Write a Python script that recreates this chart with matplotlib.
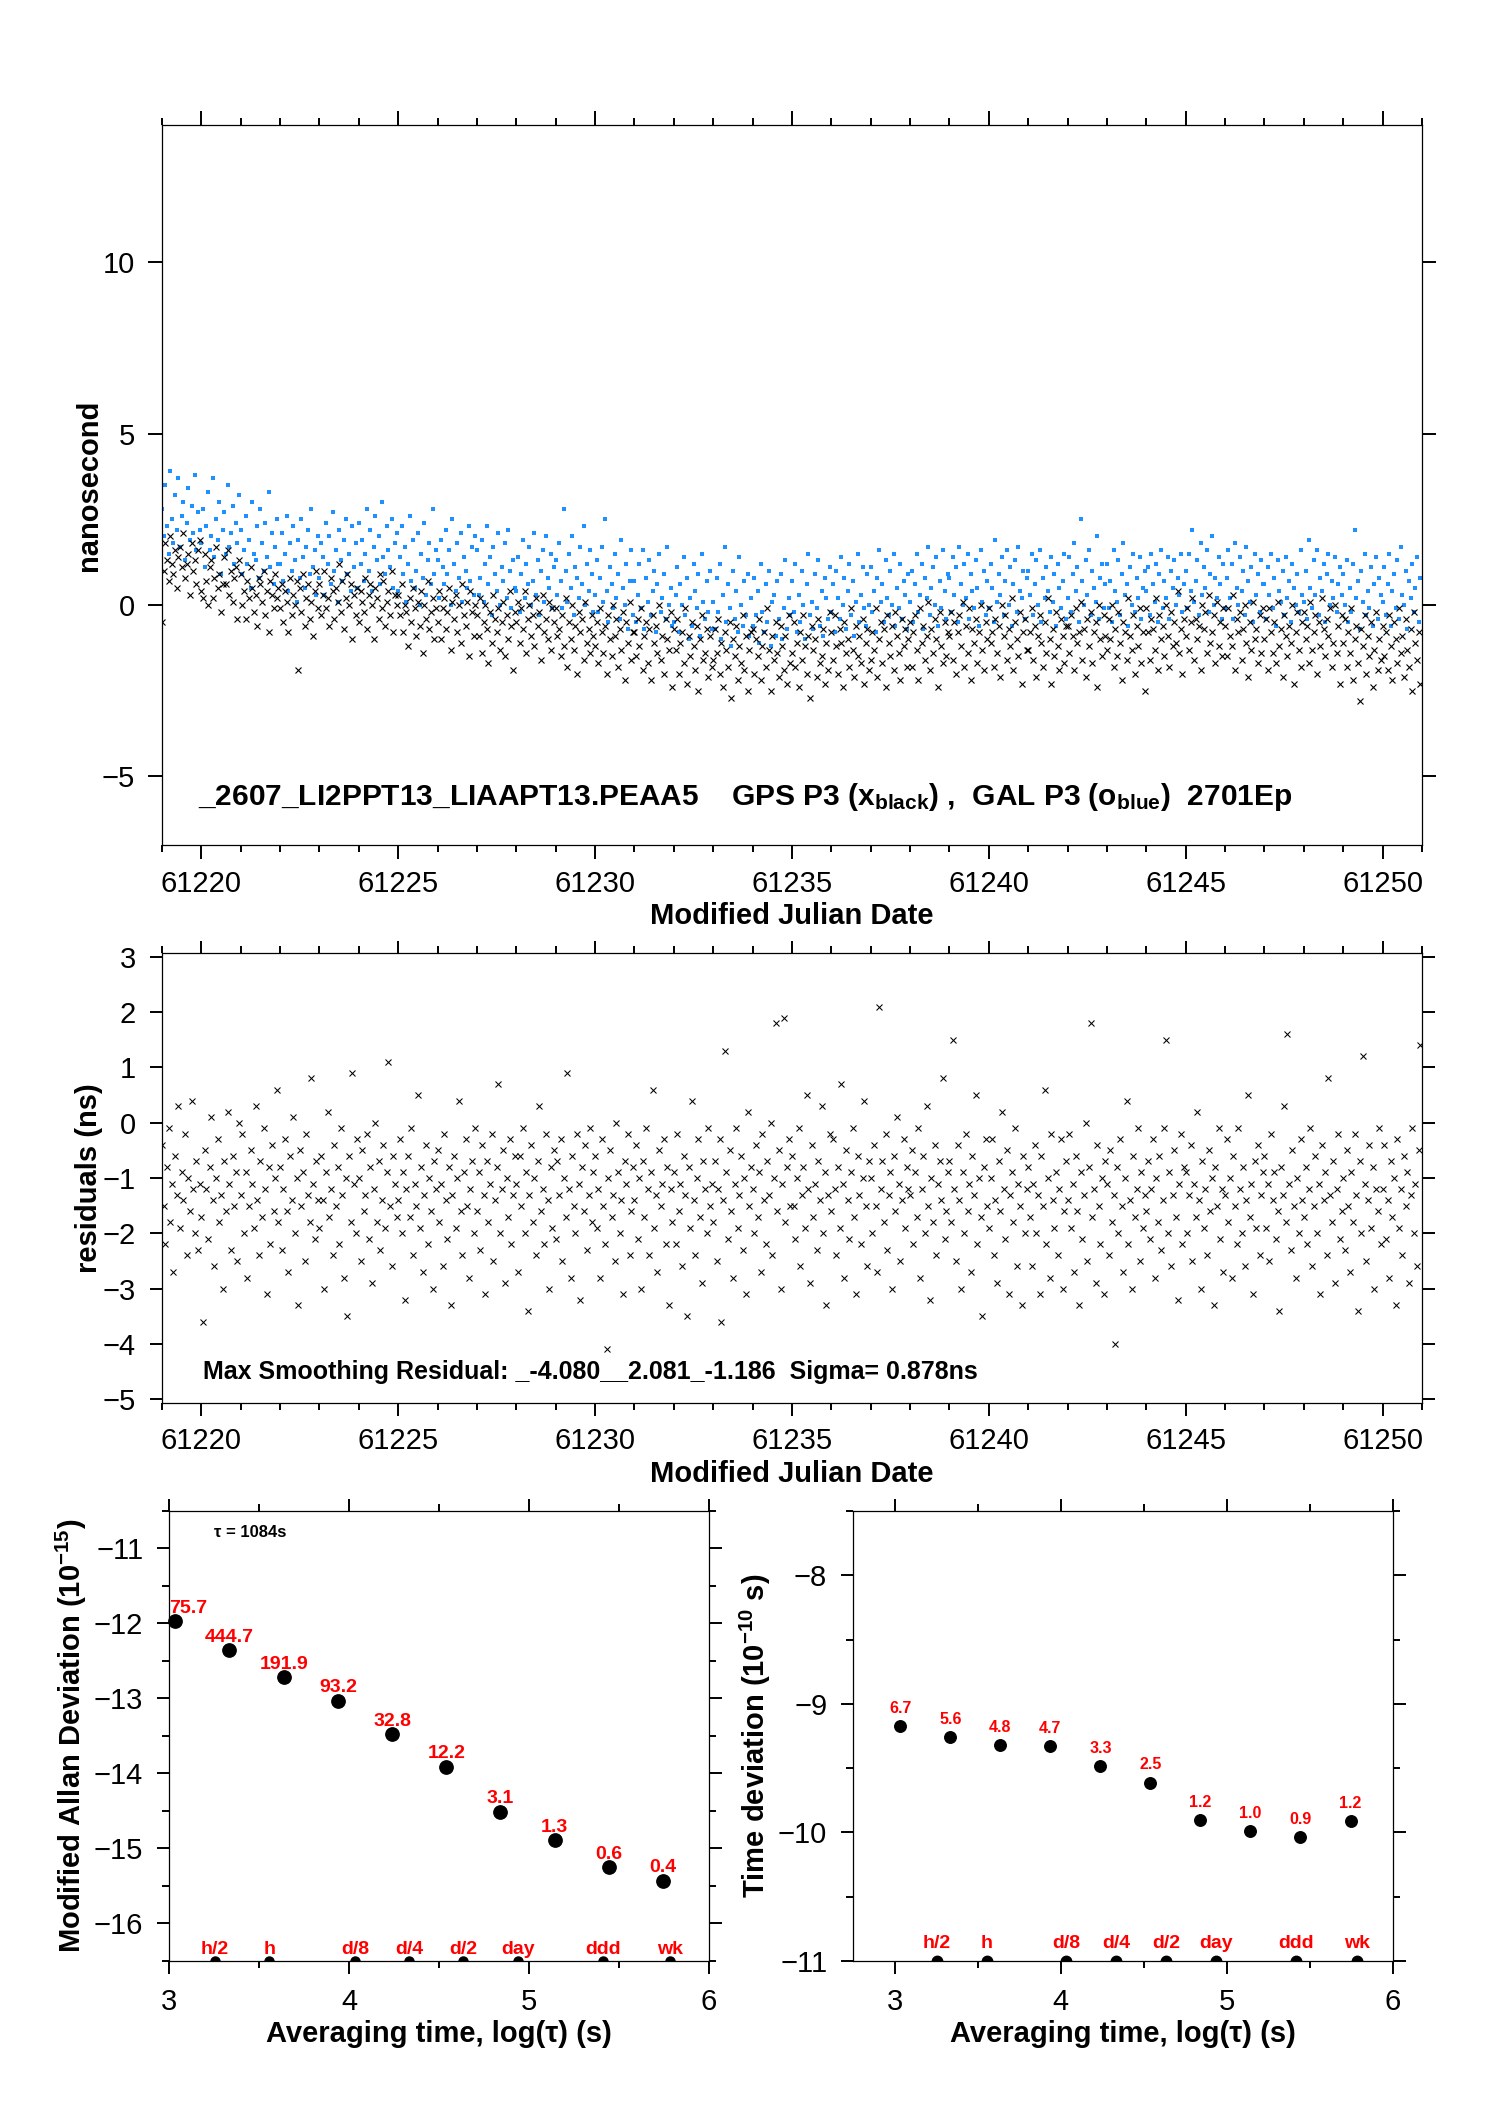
import numpy as np
import matplotlib
matplotlib.use("Agg")
import matplotlib.pyplot as plt
from matplotlib.ticker import MultipleLocator, FixedLocator

plt.rcParams['font.family'] = ['Liberation Sans', 'DejaVu Sans']
plt.rcParams['mathtext.fontset'] = 'custom'
plt.rcParams['mathtext.rm'] = 'Liberation Sans'
plt.rcParams['mathtext.bf'] = 'Liberation Sans:bold'
plt.rcParams['mathtext.it'] = 'Liberation Sans:italic'
plt.rcParams['axes.unicode_minus'] = True

# ---------------- data ----------------
MJD_START = 61219.0
SAMPLES_PER_DAY = 24

# GPS P3 clock offsets, tenths of ns, one row per day (hourly samples)
gps_tenths = [
    -5, 10, 18, 13, 7, 20, 12, 9, 16, 5, 14, 17, 11, 21, 8, 12, 15, 3, 18, 10, 13, 6, 16, 19,
    4, 2, 15, 7, 0, 11, 13, 2, 8, 17, 5, 9, -2, 6, 14, 6, 16, 3, 10, 1, 8, 11, -4, 13,
    9, 0, 4, -4, 7, 2, 11, 5, -2, 3, -6, 8, 6, 1, 10, -3, 4, -8, 7, 3, -1, 9, 2, 5,
    -1, 6, -5, 4, 1, -8, 8, -3, 3, 0, 7, -19, 5, -2, 9, -6, 2, 6, -4, 1, -9, 4, 10, -1,
    6, -3, 3, 10, -1, 2, -6, 8, 4, -4, 5, 1, 12, -2, 7, -7, 2, 9, 0, 6, -10, 3, -3, 5,
    -5, 4, 1, -2, 8, -7, 3, 6, 0, -10, 5, 2, -4, 9, -1, 7, -6, 1, 4, -3, 10, -8, 3, 0,
    3, -3, 6, -8, 0, -2, -12, 2, -5, 5, -1, -9, 1, -6, 4, -14, 0, -4, 7, -7, -2, 2, -10, -1,
    -5, 4, -10, -1, 2, -7, -2, 5, -13, 1, -4, 3, -8, 0, -11, 6, -3, -6, 1, -15, 4, -2, -9, 0,
    -3, -9, 2, -14, -5, 0, -7, -17, -2, -11, 3, -4, -8, -1, -13, -5, 1, -15, -3, -10, 4, -6, -19, -2,
    -5, 1, -11, -1, -7, 4, -14, -4, 0, -9, -3, -12, 2, -6, -2, -16, 3, -8, -4, -10, 1, -13, -1, -5,
    -1, -9, -7, -15, -3, -12, 2, -18, -5, -10, 0, -13, -6, -20, -2, -8, -4, -16, 1, -11, -7, -14, -3, -9,
    -12, -5, -17, -1, -8, -14, -6, -20, -3, -10, -15, 0, -9, -4, -18, -7, -13, -2, -22, -5, -11, 1, -16, -8,
    -8, -15, -4, -12, -1, -19, -9, -5, -17, -7, -22, -3, -11, -6, -14, 0, -16, -9, -20, -4, -10, -13, -2, -24,
    -7, -13, -4, -20, -11, -8, -17, -1, -23, -9, -15, -5, -12, -19, -6, -25, -10, -3, -16, -14, -7, -21, -9, -18,
    -16, -7, -14, -4, -20, -11, -24, -8, -13, -18, -5, -27, -10, -15, -6, -22, -12, -17, -3, -19, -9, -25, -13, -8,
    -7, -20, -10, -15, -4, -22, -12, -8, -18, -1, -13, -25, -9, -16, -5, -14, -21, -6, -12, -19, -9, -23, -3, -17,
    -14, -5, -18, -11, -24, -8, -16, -3, -12, -20, -9, -27, -6, -13, -10, -21, -4, -17, -15, -7, -23, -11, -19, -2,
    -8, -16, -3, -12, -20, -7, -11, -24, -5, -14, -10, -18, -1, -13, -21, -6, -15, -9, -17, -4, -23, -11, -7, -19,
    -16, -8, -13, -1, -21, -10, -5, -17, -7, -24, -3, -11, -15, -6, -19, -2, -9, -14, -22, -4, -12, -7, -18, -10,
    -5, -18, -8, -3, -13, -22, -1, -11, -6, -16, -9, 1, -19, -7, -14, -4, -10, -24, -2, -12, -17, -5, -15, -8,
    -9, -2, -16, -5, -20, -8, -3, -12, 1, -18, -6, -14, -1, -22, -7, -11, -4, -17, -8, 0, -13, -19, -5, -10,
    -1, -11, -8, -18, -4, -14, -6, -21, 0, -9, -3, -16, -7, -12, 2, -19, -5, -10, -15, -2, -23, -8, -4, -13,
    -13, -8, -1, -16, -6, -21, -9, -3, -11, -18, -5, -14, 2, -10, -23, -7, -15, -2, -12, -19, -4, -9, -17, -6,
    -6, -14, -3, -9, -19, -1, -11, -8, 1, -16, -7, -21, -4, -12, -2, -17, -8, -5, -24, 0, -10, -15, -3, -9,
    -13, -4, -10, 0, -18, -7, -15, -2, -11, -22, -5, -8, -16, 2, -9, -13, -3, -20, -6, -12, -1, -17, -8, -25,
    -1, -8, -16, -4, -7, -13, 2, -19, -3, -10, -6, -15, 0, -9, -18, -2, -12, -5, -11, 4, -14, -7, -20, -4,
    -9, -1, -13, -5, 2, -16, -4, -10, -6, -19, 0, -7, -2, -14, 3, -11, -8, -3, -17, 1, -12, -5, -15, -1,
    -6, -15, -1, -9, -12, 3, -19, -4, -8, -2, -16, -7, 0, -11, -21, -5, -13, 1, -10, -7, -17, -3, -14, -1,
    -10, -4, -19, -1, -8, -14, -5, -17, 1, -12, -7, -21, -3, -9, -15, -6, -11, 0, -23, -8, -2, -13, -18, -5,
    -2, -10, -6, -17, 1, -13, -8, -3, -20, -5, -12, 2, -7, -15, -4, -9, -1, -18, -11, 0, -14, -6, -23, -3,
    -11, -4, -18, -8, -14, -1, -22, -10, -6, -17, -28, -7, -12, -3, -20, -9, -15, -5, -24, -13, -2, -19, -10, -16,
    -6, -15, -8, -19, -3, -12, -22, -5, -10, -17, -1, -14, -9, -21, -4, -13, -18, -7, -25, -2, -11, -16, -8, -23,
]

# GAL P3 clock offsets, tenths of ns, same epochs
gal_tenths = [
    28, 20, 35, 23, 15, 39, 25, 18, 32, 22, 37, 17, 26, 30, 13, 24, 34, 19, 29, 21, 38, 16, 27, 22,
    18, 28, 11, 23, 33, 16, 20, 37, 14, 25, 19, 30, 9, 22, 27, 15, 35, 17, 21, 29, 12, 24, 18, 32,
    22, 9, 16, 26, 12, 19, 5, 30, 15, 13, 23, 8, 28, 18, 10, 24, 14, 33, 11, 21, 6, 17, 25, 12,
    12, 21, 7, 15, 26, 4, 18, 10, 23, 13, 1, 19, 8, 25, 14, 5, 17, 22, 9, 28, 11, 16, 3, 20,
    8, 18, 14, 3, 24, 12, 20, 6, 27, 10, 16, 1, 22, 13, 7, 19, 25, 9, 15, 4, 23, 11, 18, 5,
    24, 12, 19, 7, 15, 28, 10, 22, 4, 17, 26, 13, 20, 6, 30, 14, 9, 23, 16, 11, 25, 5, 18, 21,
    4, 14, 23, 9, 17, 1, 12, 26, 7, 19, 5, 10, 21, 0, 15, 8, 24, 3, 13, 18, 6, 28, 9, 16,
    13, 2, 19, 11, 6, 22, 9, 16, 0, 25, 12, 4, 18, 8, 21, 1, 14, 10, 5, 23, 7, 17, 3, 20,
    16, 3, 8, 19, 1, 12, 23, 6, 14, -3, 17, 9, 4, 21, 0, 11, 7, 18, 2, 22, 10, -1, 13, 5,
    4, 14, -2, 9, 19, 2, 12, 6, 17, 0, 7, 21, 3, 13, -3, 10, 16, 1, 20, 8, 5, 15, -1, 11,
    13, 3, 18, 7, -1, 28, 10, 1, 15, 5, 20, -3, 11, 8, 2, 17, 6, 23, 0, 12, 4, 16, 9, -2,
    3, 13, -2, 8, 17, 1, 25, 4, -5, 11, 6, -1, 15, 2, 9, -4, 19, 5, 0, 12, -7, 7, 16, -3,
    7, -5, 3, 12, -1, 16, -7, 8, 1, 13, -3, 4, 10, -8, 6, 15, -2, 2, 9, -4, 17, 0, 5, -6,
    -5, 3, 11, -8, 6, 0, 14, -3, 8, -10, 2, -6, 12, 4, -1, 9, -9, 15, 1, -4, 7, -2, 10, -7,
    1, -7, 8, -2, 12, -10, 3, 17, -5, 6, -1, -12, 10, -4, 4, -8, 14, 0, -6, 7, -3, 9, -9, 2,
    -6, 8, -3, 4, -11, 12, -2, -8, 6, -5, 10, -12, 1, 3, -9, 7, -4, 9, -10, -1, 13, -7, 2, -3,
    7, -2, 12, -8, 3, -5, 10, 0, -10, 6, 15, -3, 1, -7, 9, -1, 13, -6, 4, -9, 8, 2, -4, 11,
    -2, 6, -8, 10, 2, -4, 14, 0, 8, -7, 4, 12, -3, 7, -9, 1, 15, -5, 3, 11, -1, -6, 9, 0,
    11, -2, 4, -8, 8, 16, 1, 6, -5, 13, 2, -3, 10, 0, 15, -6, 5, -1, 12, -4, 7, 3, -7, 9,
    1, 10, -5, 6, 15, -2, 3, 12, -7, 8, 2, 17, -3, 5, 11, 0, 14, -6, 7, -1, 16, 4, -4, 9,
    8, -2, 14, 3, 11, -5, 17, 6, 0, 12, 2, 15, -4, 9, 4, -1, 13, 5, -6, 16, 1, 10, -3, 7,
    -1, 12, 5, -5, 19, 1, 9, 3, 14, -3, 7, 16, 0, 11, -6, 6, 13, -2, 17, 4, 2, 10, -4, 8,
    10, 3, 15, -3, 6, 13, 0, 16, -5, 8, 2, 11, 4, -2, 14, 1, 9, -6, 12, 5, -1, 7, 15, -4,
    2, 14, -2, 9, 18, 4, 11, -5, 25, 7, 0, 13, 3, 16, -3, 10, 5, 1, 20, -4, 8, 12, -1, 6,
    12, -1, 7, -5, 16, 4, 1, 13, -3, 9, 18, 3, 6, -6, 11, 0, 15, -2, 8, 2, 14, -4, 5, 10,
    4, 11, -3, 15, 6, 1, 12, -5, 9, 16, -1, 7, 2, 14, -4, 10, 5, 13, 0, 8, 3, 15, -2, 6,
    10, -1, 15, 4, 22, 1, 7, 13, -3, 18, 3, 11, 5, 16, -2, 9, 20, 0, 8, 2, 14, 6, -4, 12,
    -1, 8, 16, 2, 12, -4, 18, 5, 0, 14, 4, 10, -3, 17, 7, 1, 11, -5, 15, 3, 9, -2, 13, 6,
    6, -4, 11, 3, 15, -1, 8, -6, 13, 4, 1, 10, -3, 14, 2, 7, -5, 12, 5, 0, 9, -2, 16, 3,
    1, 10, -4, 19, 5, -1, 13, 3, 16, -3, 8, 4, 12, -5, 9, 15, 0, 7, 2, 14, -2, 6, 11, 3,
    9, 0, 13, -5, 5, -2, 12, 22, 2, 7, -7, 10, 1, 15, -3, 4, -1, 11, -6, 6, 14, -4, 8, 3,
    1, 11, -3, 6, 15, -6, 4, 9, -1, 13, -4, 17, 3, 0, 10, -7, 7, 2, 12, -2, 5, 14, -5, 8,
]

# smoothing residuals, tenths of ns, same epochs
resid_tenths = [
    -4, -15, -22, -8, -1, -18, -11, -27, -6, -13, 3, -19, -9, -14, -2, -24, -10, -16, 4, -12, -20, -7, -23, -11,
    -17, -36, -5, -12, -21, -8, 1, -14, -26, -10, -3, -18, -13, -30, -7, -16, 2, -11, -23, -6, -15, -9, -25, 0,
    -13, -2, -20, -9, -28, -15, -5, -11, -19, 3, -14, -24, -7, -17, -1, -12, -31, -8, -22, -4, -16, -10, 6, -18,
    -8, -23, -12, -3, -16, -27, -6, -14, 1, -20, -10, -33, -5, -15, -9, -25, -2, -13, -18, 8, -11, -21, -7, -14,
    -19, -6, -14, -30, -9, 2, -17, -12, -24, -4, -15, -8, -22, -1, -13, -28, -10, -35, -6, -18, 9, -11, -20, -3,
    -10, -25, -5, -16, -13, -2, -21, -8, -29, -12, 0, -18, -7, -23, -14, -4, -19, -9, 11, -15, -26, -6, -11, -17,
    -14, -3, -20, -9, -32, -12, -6, -17, -1, -24, -11, -15, 5, -19, -8, -27, -13, -4, -22, -10, -16, -30, -7, -12,
    -5, -18, -11, -26, -2, -14, -21, -8, -33, -13, -6, -19, -10, 4, -16, -24, -9, -3, -15, -28, -12, -7, -20, -1,
    -16, -9, -23, -4, -13, -31, -7, -18, -11, -2, -25, -14, -8, 7, -20, -12, -5, -29, -10, -17, -3, -22, -13, -6,
    -11, -27, -6, -15, -1, -20, -9, -34, -13, -4, -18, -10, -24, -7, 3, -16, -12, -22, -2, -14, -30, -8, -19, -5,
    -21, -7, -13, -3, -25, -10, -17, 9, -12, -28, -6, -15, -20, -2, -11, -32, -8, -16, -4, -23, -13, -1, -18, -9,
    -6, -19, -12, -28, -3, -15, -22, -41, -10, -5, -17, -13, -25, 0, -9, -20, -14, -31, -7, -11, -2, -24, -16, -8,
    -14, -4, -21, -10, -30, -7, -17, -1, -12, -24, -9, 6, -19, -13, -27, -5, -15, -11, -3, -22, -8, -33, -12, -18,
    -9, -22, -2, -16, -11, -26, -6, -13, -35, -8, -19, 4, -14, -24, -10, -3, -17, -29, -7, -12, -20, -1, -15, -11,
    -18, -7, -25, -12, -3, -36, -14, 13, -9, -21, -5, -16, -28, -11, -1, -19, -13, -6, -23, -10, -31, 2, -15, -8,
    -12, -20, -4, -17, -9, -27, -2, -14, -22, -7, -13, 0, -24, -10, 18, -16, -5, -30, -11, 19, -18, -8, -3, -15,
    -6, -15, -21, -10, -1, -26, -13, -8, -19, 5, -12, -29, -4, -17, -11, -23, -7, -14, 3, -20, -9, -33, -13, -2,
    -16, -3, -12, -24, -8, -19, 7, -11, -28, -5, -14, -21, -9, -1, -17, -31, -6, -13, -22, -10, 4, -15, -26, -7,
    -10, -20, -4, -15, -27, 21, -12, -7, -18, -2, -23, -13, -9, -30, -6, -16, 1, -11, -25, -14, -3, -19, -8, -12,
    -13, -5, -22, -9, -17, -1, -28, -12, -6, -20, 3, -15, -32, -10, -18, -4, -24, -11, -7, -14, 8, -21, -16, -9,
    -7, -18, 15, -12, -25, -4, -14, -30, -9, -20, -2, -16, -11, -27, -6, -13, 5, -22, -10, -17, -35, -8, -3, -15,
    -19, -10, -3, -24, -14, -29, -7, -16, 2, -12, -21, -5, -31, -13, -9, -18, -1, -26, -11, -15, -33, -6, -20, -12,
    -8, -17, -26, -11, -4, -20, -13, -31, -6, -15, 6, -22, -10, -28, -2, -14, -19, -9, -24, -12, -3, -30, -16, -7,
    -14, -2, -19, -11, -27, -6, -16, -33, -9, -21, -13, 0, -25, -8, 18, -17, -12, -29, -4, -15, -22, -10, -31, -7,
    -11, -24, -5, -18, -13, -40, -8, -20, -3, -15, -27, -10, 4, -22, -14, -30, -6, -17, -12, -1, -25, -9, -19, -13,
    -16, -7, -21, -12, -3, -28, -10, -18, -6, -23, -14, -1, 15, -20, -9, -26, -13, -5, -17, -32, -11, -2, -22, -8,
    -9, -20, -13, -4, -25, -11, -17, 2, -14, -30, -7, -19, -12, -24, -5, -16, -10, -33, -8, -15, -1, -21, -12, -27,
    -13, -3, -18, -10, -28, -6, -15, -22, -1, -12, -20, -8, -26, -14, 5, -17, -11, -31, -7, -19, -4, -24, -13, -9,
    -6, -19, -11, -25, -2, -14, -9, -21, -16, -34, -8, -13, 3, -18, 16, -11, -23, -5, -15, -28, -10, -20, -3, -14,
    -17, -8, -22, -12, -1, -26, -15, -6, -20, -11, -31, -4, -14, -9, -24, 8, -13, -18, -7, -29, -12, -2, -21, -16,
    -10, -23, -5, -15, -27, -9, -18, -2, -13, -34, -7, -20, 12, -11, -25, -14, -4, -19, -8, -30, -12, -16, -1, -22,
    -12, -4, -21, -14, -28, -7, -17, -10, -33, -3, -19, -12, -24, -6, -15, -9, -29, -13, -1, -20, -11, -26, -5, 14,
]

# stability analysis (averaging times in s, log10 of deviations)
tau_s = [1084, 2168, 4336, 8672, 17344, 34688, 69376, 138752, 277504, 555008]
mdev_log = [-11.97, -12.36, -12.72, -13.03, -13.48, -13.91, -14.51, -14.89, -15.25, -15.43]
mdev_labels = ['75.7', '444.7', '191.9', '93.2', '32.8', '12.2', '3.1', '1.3', '0.6', '0.4']
tdev_log = [-9.174, -9.257, -9.322, -9.331, -9.485, -9.614, -9.906, -9.989, -10.038, -9.915]
tdev_labels = ['6.7', '5.6', '4.8', '4.7', '3.3', '2.5', '1.2', '1.0', '0.9', '1.2']

ref_tau_s = [1800, 3600, 10800, 21600, 43200, 86400, 259200, 604800]
ref_names = ['h/2', 'h', 'd/8', 'd/4', 'd/2', 'day', 'ddd', 'wk']

title_text = (r'_2607_LI2PPT13_LIAAPT13.PEAA5    GPS P3 (x$_{\mathbf{black}}$) ,  '
              r'GAL P3 (o$_{\mathbf{blue}}$)  2701Ep')
resid_text = 'Max Smoothing Residual: _-4.080__2.081_-1.186  Sigma= 0.878ns'
tau_text = 'τ = 1084s'

# ---------------- derived ----------------
mjd = MJD_START + np.arange(len(gps_tenths)) / SAMPLES_PER_DAY
gps_ns = np.array(gps_tenths) / 10.0
gal_ns = np.array(gal_tenths) / 10.0
resid_ns = np.array(resid_tenths) / 10.0
log_tau = np.log10(tau_s)
log_ref = np.log10(ref_tau_s)

BLUE = '#1E90FF'
RED = '#FF0000'

fig = plt.figure(figsize=(14.88, 21.05), dpi=100)

def style(ax, major_len, minor_len):
    for s in ax.spines.values():
        s.set_linewidth(0.9)
    ax.tick_params(which='both', direction='out', top=True, right=True,
                   width=1.4, labelsize=21, color='black')
    ax.tick_params(which='major', length=major_len)
    ax.tick_params(which='minor', length=minor_len)

# ---- top panel ----
ax1 = fig.add_axes([0.10887, 0.59857, 0.84677, 0.34204])
ax1.plot(mjd, gal_ns, linestyle='none', marker='s', markersize=2.6,
         markeredgewidth=0, color=BLUE, zorder=2)
ax1.plot(mjd, gps_ns, linestyle='none', marker='x', markersize=4.3,
         markeredgewidth=0.8, color='black', zorder=3)
ax1.set_xlim(61219, 61251)
ax1.set_ylim(-7, 14)
ax1.xaxis.set_major_locator(MultipleLocator(5))
ax1.xaxis.set_minor_locator(MultipleLocator(1))
ax1.yaxis.set_major_locator(FixedLocator([-5, 0, 5, 10]))
style(ax1, 10, 5)
ax1.tick_params(axis='x', pad=8)
ax1.tick_params(axis='y', pad=9.7)
ax1.xaxis.get_major_formatter().set_useOffset(False)
ax1.set_xlabel('Modified Julian Date', fontsize=21, fontweight='bold')
ax1.xaxis.set_label_coords(0.5, -0.079)
ax1.set_ylabel('nanosecond', fontsize=21, fontweight='bold')
ax1.yaxis.set_label_coords(-0.047, 0.5)
ax1.text(61219.92, -5.82, title_text, fontsize=21.5, fontweight='bold', va='baseline')

# ---- residual panel ----
ax2 = fig.add_axes([0.10887, 0.33349, 0.84677, 0.21378])
ax2.plot(mjd, resid_ns, linestyle='none', marker='x', markersize=4.0,
         markeredgewidth=0.75, color='black')
ax2.set_xlim(61219, 61251)
ax2.set_ylim(-5.07, 3.07)
ax2.xaxis.set_major_locator(MultipleLocator(5))
ax2.xaxis.set_minor_locator(MultipleLocator(1))
ax2.yaxis.set_major_locator(MultipleLocator(1))
style(ax2, 9, 5)
ax2.tick_params(axis='x', pad=8)
ax2.tick_params(axis='y', pad=9.7)
ax2.xaxis.get_major_formatter().set_useOffset(False)
ax2.set_xlabel('Modified Julian Date', fontsize=21, fontweight='bold')
ax2.xaxis.set_label_coords(0.5, -0.127)
ax2.set_ylabel('residuals (ns)', fontsize=21, fontweight='bold')
ax2.yaxis.set_label_coords(-0.047, 0.5)
ax2.text(61220.05, -4.64, resid_text, fontsize=18, fontweight='bold', va='baseline')

# ---- MDEV panel ----
ax3 = fig.add_axes([0.11358, 0.06841, 0.36290, 0.21378])
ax3.set_xlim(3, 6)
ax3.set_ylim(-16.5, -10.5)
ax3.plot(log_tau, mdev_log, linestyle='none', marker='o', markersize=9.6,
         color='black', clip_on=False, zorder=3)
for i, (x, y, lab) in enumerate(zip(log_tau, mdev_log, mdev_labels)):
    if i == 0:
        ax3.annotate(lab, (ax3.get_xlim()[0], y), xytext=(0, 6), textcoords='offset points',
                     ha='left', va='baseline', color=RED, fontsize=14, fontweight='bold')
    else:
        ax3.annotate(lab, (x, y), xytext=(0, 6), textcoords='offset points',
                     ha='center', va='baseline', color=RED, fontsize=14, fontweight='bold')
ax3.plot(log_ref, [-16.5] * len(log_ref), linestyle='none', marker='o', markersize=6.5,
         color='black', clip_on=True, zorder=3)
for x, name in zip(log_ref, ref_names):
    ax3.annotate(name, (x, -16.5), xytext=(0, 5), textcoords='offset points',
                 ha='center', va='baseline', color=RED, fontsize=14, fontweight='bold')
ax3.text(3.25, -10.79, tau_text, fontsize=12, fontweight='bold', va='center', ha='left')
ax3.xaxis.set_major_locator(FixedLocator([3, 4, 5, 6]))
ax3.xaxis.set_minor_locator(FixedLocator([3.5, 4.5, 5.5]))
ax3.yaxis.set_major_locator(MultipleLocator(1))
ax3.yaxis.set_minor_locator(MultipleLocator(0.5))
style(ax3, 9, 5)
ax3.tick_params(axis='x', pad=10.5)
ax3.tick_params(axis='y', pad=9.6)
ax3.set_xlabel('Averaging time, log(τ) (s)', fontsize=21, fontweight='bold')
ax3.xaxis.set_label_coords(0.5, -0.131)
ax3.set_ylabel(r'Modified Allan Deviation (10$^{\mathbf{-15}}$)', fontsize=21, fontweight='bold')
ax3.yaxis.set_label_coords(-0.148, 0.5)

# ---- TDEV panel ----
ax4 = fig.add_axes([0.57325, 0.06841, 0.36290, 0.21378])
ax4.set_xlim(2.75, 6)
ax4.set_ylim(-11, -7.5)
ax4.plot(log_tau, tdev_log, linestyle='none', marker='o', markersize=8.3,
         color='black', zorder=3)
for x, y, lab in zip(log_tau, tdev_log, tdev_labels):
    ax4.annotate(lab, (x, y), xytext=(0, 9.6), textcoords='offset points',
                 ha='center', va='baseline', color=RED, fontsize=11.5, fontweight='bold')
ax4.plot(log_ref, [-11] * len(log_ref), linestyle='none', marker='o', markersize=7.5,
         color='black', clip_on=True, zorder=3)
for x, name in zip(log_ref, ref_names):
    ax4.annotate(name, (x, -11), xytext=(0, 9), textcoords='offset points',
                 ha='center', va='baseline', color=RED, fontsize=14, fontweight='bold')
ax4.xaxis.set_major_locator(FixedLocator([3, 4, 5, 6]))
ax4.xaxis.set_minor_locator(FixedLocator([3.5, 4.5, 5.5]))
ax4.yaxis.set_major_locator(FixedLocator([-11, -10, -9, -8]))
ax4.yaxis.set_minor_locator(FixedLocator([-10.5, -9.5, -8.5, -7.5]))
style(ax4, 9, 5)
ax4.tick_params(axis='x', pad=10.5)
ax4.tick_params(axis='y', pad=9.6)
ax4.set_xlabel('Averaging time, log(τ) (s)', fontsize=21, fontweight='bold')
ax4.xaxis.set_label_coords(0.5, -0.131)
ax4.set_ylabel(r'Time deviation (10$^{\mathbf{-10}}$ s)', fontsize=21, fontweight='bold')
ax4.yaxis.set_label_coords(-0.148, 0.5)

fig.savefig('out.png', dpi=100)
